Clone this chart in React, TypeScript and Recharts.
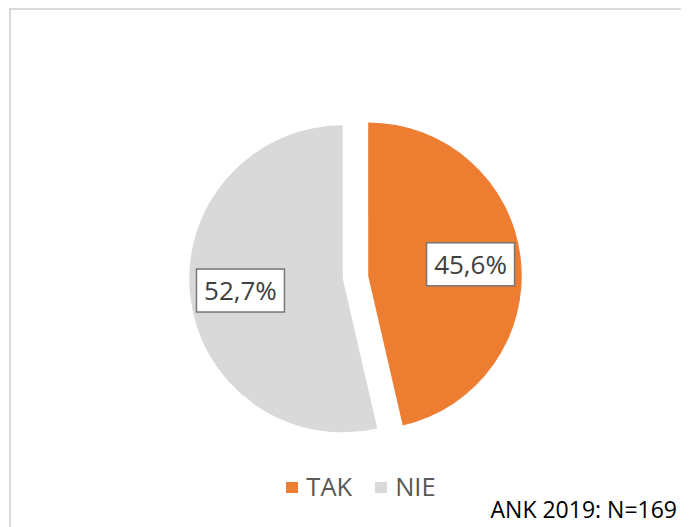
import { PieChart, Pie, Cell, Sector, Legend } from 'recharts';

// Pie survey answers
const CATEGORIES = ['TAK', 'NIE'];
const VALUES = [45.6, 52.7];
const COLORS = ['#ED7D31', '#D9D9D9'];
const NOTE = 'ANK 2019: N=169';

const FONT = '"Open Sans", "Noto Sans", sans-serif';
const RAD = Math.PI / 180;
const EXPLODE = 12.8; // slice pull-out distance
const LABEL_R = 103; // label distance from the (moved) slice centre

const data = CATEGORIES.map((name, i) => ({ name, value: VALUES[i], color: COLORS[i] }));

function offset(midAngle: number, r: number) {
  return { dx: r * Math.cos(-midAngle * RAD), dy: r * Math.sin(-midAngle * RAD) };
}

function ExplodedSlice(props: any) {
  const { cx, cy, midAngle } = props;
  const { dx, dy } = offset(midAngle, EXPLODE);
  return <Sector {...props} cx={cx + dx} cy={cy + dy} stroke="none" />;
}

function renderLabel(props: any) {
  const { cx, cy, midAngle, value } = props;
  const { dx, dy } = offset(midAngle, EXPLODE + LABEL_R);
  const x = cx + dx;
  const y = cy + dy;
  return (
    <g>
      <rect x={x - 44} y={y - 21.5} width={88} height={43} fill="#fff" stroke="#767676" strokeWidth={1.5} />
      <text x={x} y={y + 9.5} textAnchor="middle" fontSize={26} fill="#404040" fontFamily={FONT}>
        {String(value).replace('.', ',')}%
      </text>
    </g>
  );
}

function LegendContent() {
  return (
    <div
      style={{
        display: 'flex',
        justifyContent: 'center',
        paddingLeft: 25,
        fontFamily: FONT,
        fontSize: 25.5,
        color: '#595959',
      }}
    >
      {data.map((d, i) => (
        <div key={d.name} style={{ display: 'flex', alignItems: 'center', marginLeft: i === 0 ? 0 : 23 }}>
          <span style={{ width: 12, height: 11, background: d.color, marginRight: 8, marginTop: 2 }} />
          <span>{d.name}</span>
        </div>
      ))}
    </div>
  );
}

export default function App() {
  return (
    <div style={{ position: 'relative', width: 681, height: 519, overflow: 'hidden', background: '#fff' }}>
      <div
        style={{
          position: 'absolute',
          left: 1,
          top: 0,
          width: 800,
          height: 700,
          borderTop: '2px solid #D9D9D9',
          borderLeft: '2px solid #D9D9D9',
        }}
      />
      <div style={{ position: 'absolute', left: 0, top: 0 }}>
        <PieChart width={681} height={519}>
          <Pie
            data={data}
            dataKey="value"
            nameKey="name"
            cx={342.5}
            cy={264.4}
            outerRadius={153.5}
            startAngle={90}
            endAngle={-270}
            stroke="none"
            shape={ExplodedSlice}
            label={renderLabel}
            labelLine={false}
            isAnimationActive={false}
          >
            {data.map((d) => (
              <Cell key={d.name} fill={d.color} />
            ))}
          </Pie>
          <Legend content={LegendContent} wrapperStyle={{ top: 461, left: 0, width: 681, bottom: 'auto' }} />
        </PieChart>
      </div>
      <div
        style={{
          position: 'absolute',
          right: 12,
          top: 485,
          fontFamily: FONT,
          fontSize: 23,
          color: '#000',
          whiteSpace: 'nowrap',
        }}
      >
        {NOTE}
      </div>
    </div>
  );
}
